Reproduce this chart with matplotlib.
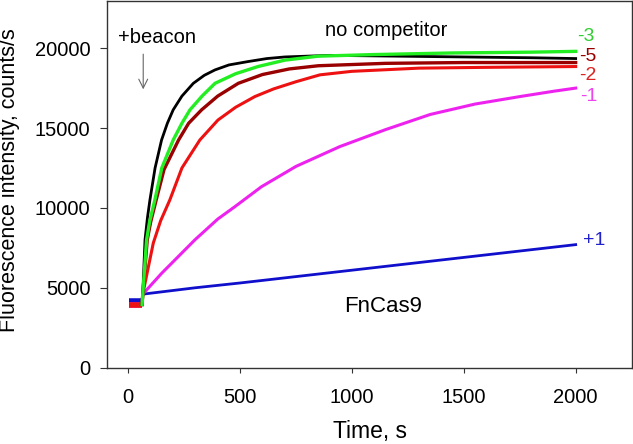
import matplotlib
matplotlib.use("Agg")
import matplotlib.pyplot as plt

plt.rcParams["font.family"] = ["Liberation Sans", "DejaVu Sans"]

# --- data (time in s, intensity in counts/s) ---
pre_t = [3, 20, 40, 62]
pre_blue = [4150, 4150, 4150, 4150]
pre_other = [3950, 3950, 3950, 3950]

t_black = [65, 75, 86, 97, 120, 149, 175, 201, 240, 291, 340, 388, 450, 535, 620, 700, 900, 1200, 1500, 1800, 2000]
v_black = [4600, 8000, 9400, 10500, 12500, 14250, 15300, 16140, 17000, 17800, 18300, 18640, 18950, 19160, 19350, 19450, 19550, 19500, 19450, 19400, 19350]

t_green = [65, 82, 95, 119, 150, 201, 240, 276, 330, 388, 480, 580, 700, 850, 1100, 1450, 1800, 2000]
v_green = [4600, 8000, 9100, 10500, 12500, 14250, 15300, 16140, 17000, 17800, 18400, 18850, 19250, 19500, 19600, 19700, 19750, 19800]

t_dred = [65, 85, 100, 125, 160, 225, 270, 328, 400, 492, 600, 720, 850, 1150, 1500, 2000]
v_dred = [4600, 8000, 9100, 10500, 12400, 14250, 15300, 16140, 17000, 17800, 18350, 18700, 18900, 19050, 19100, 19100]

t_red = [65, 112, 145, 186, 240, 320, 401, 480, 566, 650, 750, 857, 1000, 1300, 1600, 2000]
v_red = [4600, 7800, 9200, 10500, 12500, 14250, 15500, 16300, 16970, 17450, 17900, 18330, 18550, 18750, 18800, 18850]

t_mag = [65, 149, 298, 400, 477, 596, 750, 946, 1150, 1350, 1550, 1751, 1900, 2000]
v_mag = [4600, 5900, 8000, 9300, 10080, 11330, 12600, 13840, 14900, 15850, 16500, 16970, 17300, 17500]

t_blue = [65, 300, 500, 750, 1000, 1250, 1500, 1750, 2000]
v_blue = [4600, 5000, 5300, 5700, 6100, 6500, 6900, 7300, 7700]

C_BLACK = "#000000"
C_GREEN = "#22ee22"
C_DRED = "#990000"
C_RED = "#ee1111"
C_MAG = "#ee22ee"
C_BLUE = "#1010cc"

fig = plt.figure(figsize=(6.33, 4.44), dpi=100)
ax = fig.add_axes([0.169, 0.172, 0.8295, 0.826])

# baselines before the beacon is added
for c, v in [(C_BLUE, pre_blue), (C_MAG, pre_other), (C_RED, pre_other)]:
    ax.plot(pre_t, v, color=c, lw=4, solid_capstyle="butt", zorder=2)

series = [
    (t_blue, v_blue, C_BLUE, pre_blue[-1], 2.0),
    (t_mag, v_mag, C_MAG, pre_other[-1], 2.2),
    (t_red, v_red, C_RED, pre_other[-1], 2.2),
    (t_dred, v_dred, C_DRED, pre_other[-1], 2.4),
    (t_black, v_black, C_BLACK, pre_other[-1], 2.0),
    (t_green, v_green, C_GREEN, pre_other[-1], 2.4),
]
for t, v, c, base, lw in series:
    ax.plot([pre_t[-1]] + t, [base] + v, color=c, lw=lw, zorder=3)

# annotations
ax.text(1152, 21100, "no competitor", ha="center", va="center", fontsize=14.5)
ax.text(127, 20650, "+beacon", ha="center", va="center", fontsize=14.5)
ax.annotate("", xy=(67, 17250), xytext=(67, 19800),
            arrowprops=dict(arrowstyle="->", color="#666666", lw=0.8, mutation_scale=16))
ax.text(1137, 3800, "FnCas9", ha="center", va="center", fontsize=16)

ax.text(2006, 20700, "-3", color="#33cc33", ha="left", va="center", fontsize=14)
ax.text(2015, 19450, "-5", color=C_DRED, ha="left", va="center", fontsize=14)
ax.text(2015, 18270, "-2", color="#dd2222", ha="left", va="center", fontsize=14)
ax.text(2022, 16950, "-1", color="#ee44ee", ha="left", va="center", fontsize=14)
ax.text(2033, 7930, "+1", color="#2222cc", ha="left", va="center", fontsize=14)

# axes
ax.set_xlim(-95, 2252)
ax.set_ylim(0, 22960)
ax.set_xticks([0, 500, 1000, 1500, 2000])
ax.set_yticks([0, 5000, 10000, 15000, 20000])
ax.tick_params(axis="both", direction="out", labelsize=14.5, color="#333333")
ax.tick_params(axis="y", length=5, pad=7)
ax.tick_params(axis="x", length=3.6, pad=11)
ax.tick_params(top=False, right=False)
for s in ax.spines.values():
    s.set_color("#333333")
    s.set_linewidth(1.0)

ax.set_xlabel("Time, s", fontsize=16.5, va="top")
ax.xaxis.set_label_coords(0.5, -0.142)
ax.set_ylabel("Fluorescence intensity, counts/s", fontsize=15.5)
ax.yaxis.set_label_coords(-0.166, 0.51)

fig.savefig("out.png", dpi=100)
